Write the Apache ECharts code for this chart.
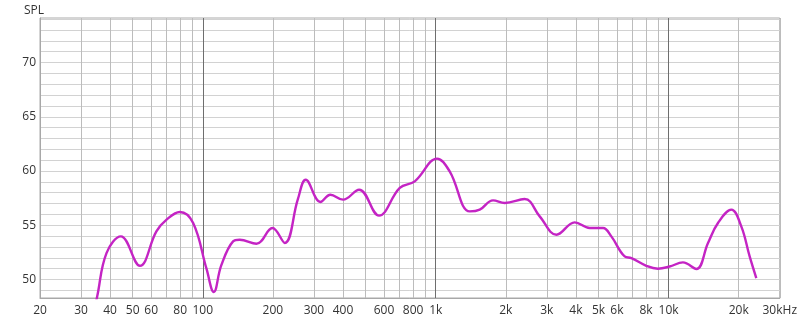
<!DOCTYPE html>
<html>
<head>
<meta charset="utf-8">
<script src="https://cdn.jsdelivr.net/npm/echarts@6/dist/echarts.min.js"></script>
<style>
html,body{margin:0;padding:0;background:#fff;}
#chart{width:800px;height:323px;}
</style>
</head>
<body>
<div id="chart"></div>
<script>
// Frequency (Hz) and SPL (dB)
const freqs = [34, 35.2, 38.6, 44.5, 53.7, 63.2, 69.9, 79.7, 90.9, 103.7, 111.5, 120, 134.9, 144, 170, 199, 225, 256, 276.7, 320, 353, 400, 469, 571, 701, 813, 1013, 1148, 1400, 1545, 1763, 1978, 2410, 2795, 3300, 3954, 4581, 5228, 5675, 6477, 6920, 8020, 8995, 10100, 11520, 13150, 14760, 16290, 18590, 20510, 22280, 23790];
const spl   = [47.0, 48.44, 52.44, 53.98, 51.27, 54.44, 55.52, 56.23, 55.21, 51.0, 48.85, 51.3, 53.52, 53.67, 53.3, 54.75, 53.37, 57.4, 59.2, 57.15, 57.82, 57.36, 58.28, 55.89, 58.44, 59.05, 61.14, 59.97, 56.28, 56.44, 57.3, 57.06, 57.42, 55.82, 54.13, 55.27, 54.75, 54.75, 53.98, 52.13, 51.98, 51.27, 51.0, 51.2, 51.58, 50.97, 53.37, 55.21, 56.44, 54.9, 52.13, 50.14];

// Axis ticks / labels
const xLabelValues = [20, 30, 40, 50, 60, 80, 100, 200, 300, 400, 600, 800, 1000, 2000, 3000, 4000, 5000, 6000, 8000, 10000, 20000, 30000];
const xLabelTexts  = ['20', '30', '40', '50', '60', '80', '100', '200', '300', '400', '600', '800', '1k', '2k', '3k', '4k', '5k', '6k', '8k', '10k', '20k', '30kHz'];
const xMajorLines = [100, 1000, 10000];
const yLabelValues = [50, 55, 60, 65, 70];
const yMin = 48.3, yMax = 74.1;
const xMinHz = 20, xMaxHz = 30000;

const xGridHz = [];
for (let d = 10; d <= 10000; d *= 10) {
  for (let m = 1; m <= 9; m++) {
    const v = m * d;
    if (v >= xMinHz && v <= xMaxHz) xGridHz.push(v);
  }
}
xGridHz.push(20000, 30000);
const yGrid = [];
for (let v = Math.ceil(yMin); v <= Math.floor(yMax); v++) yGrid.push(v);

const lg = Math.log10;
const data = freqs.map((f, i) => [lg(f), spl[i]]);

const font = "'Open Sans', 'Noto Sans', sans-serif";
const chart = echarts.init(document.getElementById('chart'), null, {renderer: 'canvas'});
chart.setOption({
  animation: false,
  backgroundColor: '#ffffff',
  title: {
    text: 'SPL', left: 19, top: 0,
    textStyle: {fontSize: 12, fontWeight: 'normal', color: '#333', fontFamily: font}
  },
  grid: {left: 40, right: 20, top: 18, bottom: 25, show: true, borderColor: '#ababab', borderWidth: 1, containLabel: false},
  xAxis: [{
    type: 'value',
    min: lg(xMinHz), max: lg(xMaxHz),
    axisLine: {show: true, lineStyle: {color: '#a8a8a8', width: 1}},
    axisTick: {show: false, customValues: xGridHz.map(lg)},
    axisLabel: {
      customValues: xLabelValues.map(lg),
      margin: 7,
      color: '#333', fontSize: 12, fontFamily: font,
      formatter: function (v) {
        let best = 0, bd = 1e9;
        xLabelValues.forEach((x, i) => { const d = Math.abs(lg(x) - v); if (d < bd) { bd = d; best = i; } });
        return xLabelTexts[best];
      }
    },
    splitLine: {show: true, lineStyle: {color: '#bcbcbc', width: 1}}
  }, {
    type: 'value',
    min: lg(xMinHz), max: lg(xMaxHz),
    position: 'bottom',
    axisLine: {show: false},
    axisTick: {show: false, customValues: xMajorLines.map(lg)},
    axisLabel: {show: false, customValues: xMajorLines.map(lg)},
    splitLine: {show: true, lineStyle: {color: '#6e6e6e', width: 1}}
  }],
  yAxis: {
    type: 'value',
    min: yMin, max: yMax,
    axisLine: {show: true, lineStyle: {color: '#a8a8a8'}},
    axisTick: {show: false, customValues: yGrid},
    axisLabel: {customValues: yLabelValues, margin: 4, color: '#333', fontSize: 12, fontFamily: font},
    splitLine: {show: true, lineStyle: {color: '#d2d2d2', width: 1}}
  },
  series: [{
    type: 'line',
    xAxisIndex: 0,
    data: data,
    smooth: 0.4,
    showSymbol: false,
    clip: true,
    lineStyle: {color: '#c424c4', width: 2.4},
    z: 5
  }]
});
</script>
</body>
</html>
